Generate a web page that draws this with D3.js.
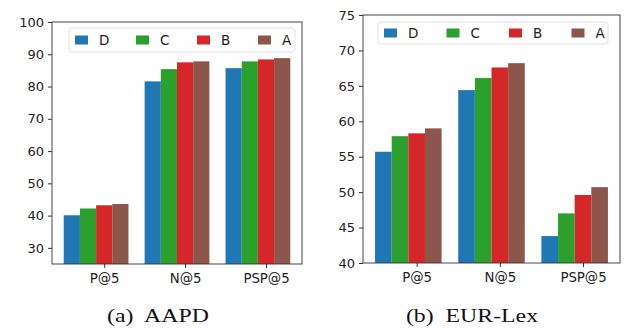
<!DOCTYPE html>
<html>
<head>
<meta charset="utf-8">
<script src="https://cdn.jsdelivr.net/npm/d3@7"></script>
<style>
  body { margin: 0; background: #fff; }
  svg { display: block; }
</style>
</head>
<body>
<div id="chart"></div>
<script>
// Data
const metrics = ["P@5", "N@5", "PSP@5"];
const methods = ["D", "C", "B", "A"];
const colors = ["#1f77b4", "#2ca02c", "#d62728", "#8c564b"];

const aapdD = [40.1, 81.6, 85.7];
const aapdC = [42.2, 85.4, 87.8];
const aapdB = [43.2, 87.5, 88.4];
const aapdA = [43.6, 87.8, 88.8];
const aapdTicks = [30, 40, 50, 60, 70, 80, 90, 100];

const eurD = [55.7, 64.4, 43.8];
const eurC = [57.9, 66.1, 47.0];
const eurB = [58.3, 67.6, 49.6];
const eurA = [59.0, 68.2, 50.7];
const eurTicks = [40, 45, 50, 55, 60, 65, 70, 75];

const width = 628;
const height = 330;

const svg = d3.select("#chart").append("svg")
    .attr("width", width)
    .attr("height", height)
    .style("font-family", "'DejaVu Sans', sans-serif");

function drawPanel(p) {
  const series = p.series;
  const x = d3.scaleLinear().domain([-0.645, 2.445]).range([p.left, p.right]);
  const y = d3.scaleLinear().domain(p.yDomain).range([p.bottom, p.top]);
  const barW = 0.2;

  const g = svg.append("g");

  // bars, 4 per metric, tick sits under the third bar
  methods.forEach((m, i) => {
    g.append("g")
      .selectAll("rect")
      .data(series[i])
      .join("rect")
      .attr("x", (d, j) => x(j + (i - 2) * barW - barW / 2))
      .attr("width", x(barW) - x(0))
      .attr("y", d => y(d))
      .attr("height", d => y(p.yDomain[0]) - y(d))
      .attr("fill", colors[i]);
  });

  // y axis
  const yAxis = g.append("g")
      .attr("transform", `translate(${p.left},0)`)
      .call(d3.axisLeft(y).tickValues(p.yTicks).tickSize(4).tickPadding(4));
  yAxis.select(".domain").remove();
  yAxis.selectAll("text").attr("font-size", 13).attr("fill", "#222").attr("font-family", "'DejaVu Sans', sans-serif");
  yAxis.selectAll("line").attr("stroke", "#333");

  // x axis
  const xAxis = g.append("g")
      .attr("transform", `translate(0,${p.bottom})`)
      .call(d3.axisBottom(x).tickValues([0, 1, 2]).tickFormat(i => metrics[i]).tickSize(4).tickPadding(6));
  xAxis.select(".domain").remove();
  xAxis.selectAll("text").attr("font-size", 13.3).attr("fill", "#222").attr("font-family", "'DejaVu Sans', sans-serif");
  xAxis.selectAll("line").attr("stroke", "#333");

  // frame
  g.append("rect")
    .attr("x", p.left).attr("y", p.top)
    .attr("width", p.right - p.left).attr("height", p.bottom - p.top)
    .attr("fill", "none").attr("stroke", "#333").attr("stroke-width", 0.9);

  // legend
  const lg = g.append("g").attr("transform", `translate(${p.legend.x},${p.legend.y})`);
  lg.append("rect")
    .attr("width", p.legend.w).attr("height", p.legend.h)
    .attr("rx", 3)
    .attr("fill", "#fff").attr("fill-opacity", 0.8)
    .attr("stroke", "#e2e2e2");
  methods.forEach((m, i) => {
    const cx = 6 + i * p.legend.step;
    lg.append("rect")
      .attr("x", cx).attr("y", p.legend.h / 2 - 4.5)
      .attr("width", 13).attr("height", 9)
      .attr("fill", colors[i]);
    lg.append("text")
      .attr("x", cx + 24).attr("y", p.legend.h / 2)
      .attr("dy", "0.36em")
      .attr("font-size", 13.5)
      .attr("fill", "#222")
      .text(m);
  });

  // caption (the figure is a bit wider than its text, so stretch horizontally)
  svg.append("text")
    .attr("transform", `translate(${p.captionX},322) scale(1.22,1)`)
    .attr("text-anchor", "middle")
    .attr("font-family", "'Liberation Serif', 'Times New Roman', serif")
    .attr("font-size", 19.5)
    .attr("fill", "#111")
    .style("white-space", "pre")
    .text(p.caption);
}

drawPanel({
  left: 52, right: 302, top: 22, bottom: 264,
  yDomain: [25, 100], yTicks: aapdTicks,
  series: [aapdD, aapdC, aapdB, aapdA],
  legend: { x: 69, y: 28, w: 226, h: 24, step: 61 },
  caption: "(a)  AAPD", captionX: 158
});

drawPanel({
  left: 363, right: 620, top: 15, bottom: 263,
  yDomain: [40, 75], yTicks: eurTicks,
  series: [eurD, eurC, eurB, eurA],
  legend: { x: 378, y: 22, w: 230, h: 22, step: 62.5 },
  caption: "(b)  EUR-Lex", captionX: 472
});
</script>
</body>
</html>
